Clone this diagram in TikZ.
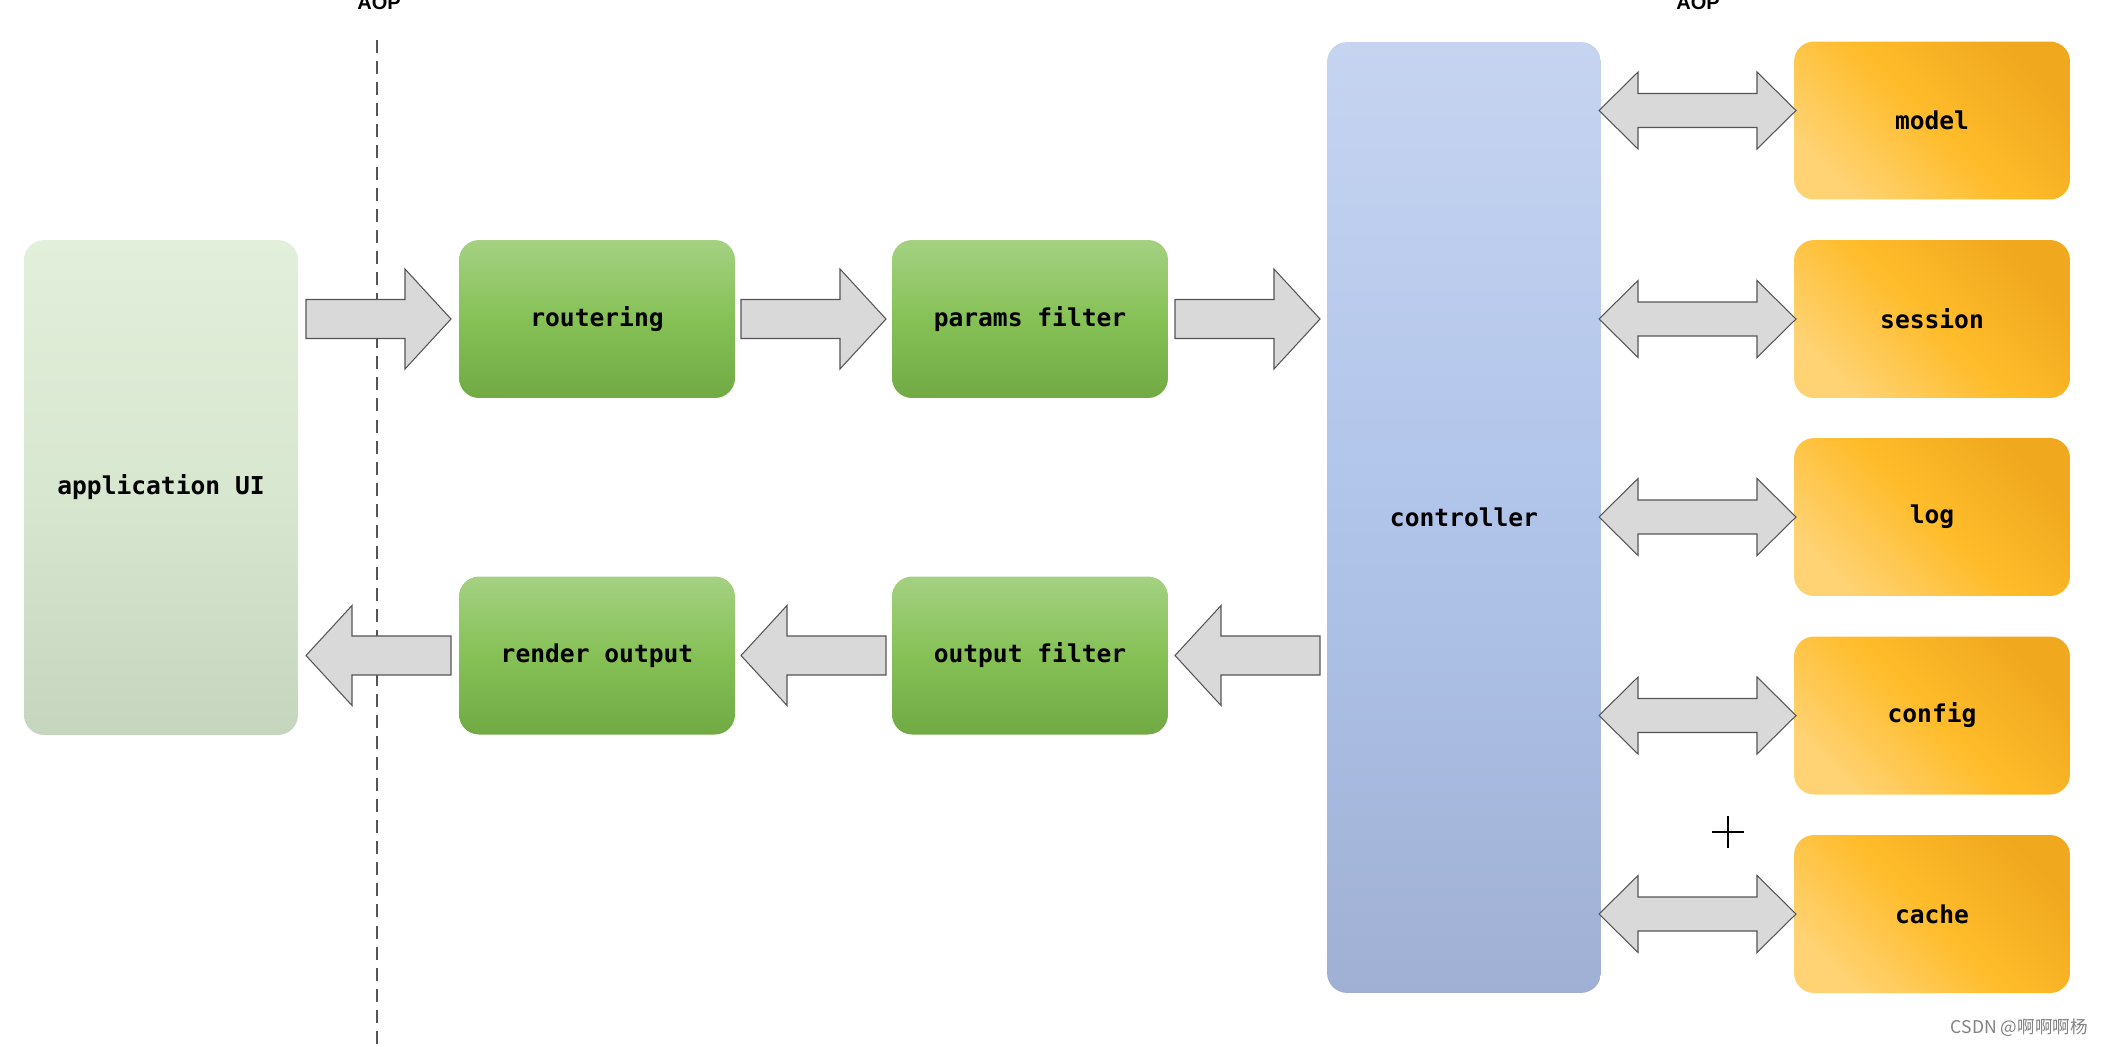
\documentclass[tikz,border=0pt]{standalone}
\usepackage{fontspec}
\setmainfont{Liberation Sans}
\setmonofont{DejaVu Sans Mono}
\newfontfamily\cjkfont{Noto Sans CJK SC}
\usepackage{tikz}
\usetikzlibrary{calc}

\definecolor{appTop}{RGB}{226,239,219}
\definecolor{appMid}{RGB}{216,231,208}
\definecolor{appBot}{RGB}{198,214,190}
\definecolor{stageTop}{RGB}{164,209,130}
\definecolor{stageMid}{RGB}{134,193,86}
\definecolor{stageBot}{RGB}{113,170,68}
\definecolor{ctrlTop}{RGB}{198,212,240}
\definecolor{ctrlMid}{RGB}{176,196,234}
\definecolor{ctrlBot}{RGB}{160,176,212}
\definecolor{partLight}{RGB}{255,210,115}
\definecolor{partMid}{RGB}{255,188,42}
\definecolor{partDark}{RGB}{240,168,30}
\definecolor{arrowFill}{RGB}{217,217,217}
\definecolor{arrowLine}{RGB}{85,85,85}

\tikzset{
  box/.style={rounded corners=0.4cm, minimum width=5.52cm, minimum height=3.16cm,
    font=\ttfamily\bfseries\fontsize{14}{16}\selectfont},
  app/.style={box, minimum width=5.48cm, minimum height=9.9cm,
    top color=appTop, bottom color=appBot, middle color=appMid},
  stage/.style={box, top color=stageTop, bottom color=stageBot, middle color=stageMid},
  ctrlbox/.style={box, minimum width=5.48cm, minimum height=19.02cm,
    top color=ctrlTop, bottom color=ctrlBot, middle color=ctrlMid},
  part/.style={box, top color=partDark, bottom color=partLight, middle color=partMid,
    shading angle=-45},
  arrowbody/.style={fill=arrowFill, draw=arrowLine, line width=0.6pt, line join=miter},
  flow/.pic={\draw[arrowbody] (-72.5,-19.5) -- (26.5,-19.5) -- (26.5,-50) -- (72.5,0)
    -- (26.5,50) -- (26.5,19.5) -- (-72.5,19.5) -- cycle;},
  both/.pic={\draw[arrowbody] (-98.5,0) -- (-59.5,-38.5) -- (-59.5,-17) -- (59.5,-17)
    -- (59.5,-38.5) -- (98.5,0) -- (59.5,38.5) -- (59.5,17) -- (-59.5,17)
    -- (-59.5,38.5) -- cycle;},
  aoptext/.style={anchor=base, font=\bfseries\fontsize{11.4}{13}\selectfont},
}

\begin{document}
\begin{tikzpicture}[x=0.02cm, y=-0.02cm]
\useasboundingbox (0,0) rectangle (2106,1046);
% AOP borders
\draw[arrowLine, line width=1.1pt, dash pattern=on 7.4pt off 4.6pt] (377,40) -- (377,1046);
\node[aoptext] (aopleft) at (379,9) {AOP};
\node[aoptext] (aopright) at (1698,9) {AOP};

\node[app] (app) at (161,487.5) {application UI};
\node[stage] (rout) at (597,319) {routering};
\node[stage] (params) at (1030,319) {params filter};
\node[stage] (render) at (597,655.5) {render output};
\node[stage] (outfilt) at (1030,655.5) {output filter};
\node[ctrlbox] (ctrl) at (1464,517.5) {controller};

\node[part] (model) at (1932,120.5) {model};
\node[part] (session) at (1932,319) {session};
\node[part] (log) at (1932,517) {log};
\node[part] (config) at (1932,715.5) {config};
\node[part] (cache) at (1932,914) {cache};

% request
\pic at ($(app.east |- rout.west)!0.5!(rout.west)$) {flow};
\pic at ($(rout.east)!0.5!(params.west)$) {flow};
\pic at ($(params.east)!0.5!(ctrl.west |- params.east)$) {flow};
% response
\pic[xscale=-1] at ($(outfilt.east)!0.5!(ctrl.west |- outfilt.east)$) {flow};
\pic[xscale=-1] at ($(render.east)!0.5!(outfilt.west)$) {flow};
\pic[xscale=-1] at ($(app.east |- render.west)!0.5!(render.west)$) {flow};
% services
\pic at ($(ctrl.east |- model.west)!0.5!(model.west)+(0,-10)$) {both};
\pic at ($(ctrl.east |- session.west)!0.5!(session.west)$) {both};
\pic at ($(ctrl.east |- log.west)!0.5!(log.west)$) {both};
\pic at ($(ctrl.east |- config.west)!0.5!(config.west)$) {both};
\pic at ($(ctrl.east |- cache.west)!0.5!(cache.west)$) {both};

\draw[line width=1.1pt] (1712,832) -- (1744,832) (1728,816) -- (1728,848);
\node[anchor=east, text={rgb,255:red,130;green,130;blue,130},
  font=\cjkfont\fontsize{10}{12}\selectfont] (mark) at (2094,1028) {CSDN @啊啊啊杨};
\end{tikzpicture}
\end{document}
